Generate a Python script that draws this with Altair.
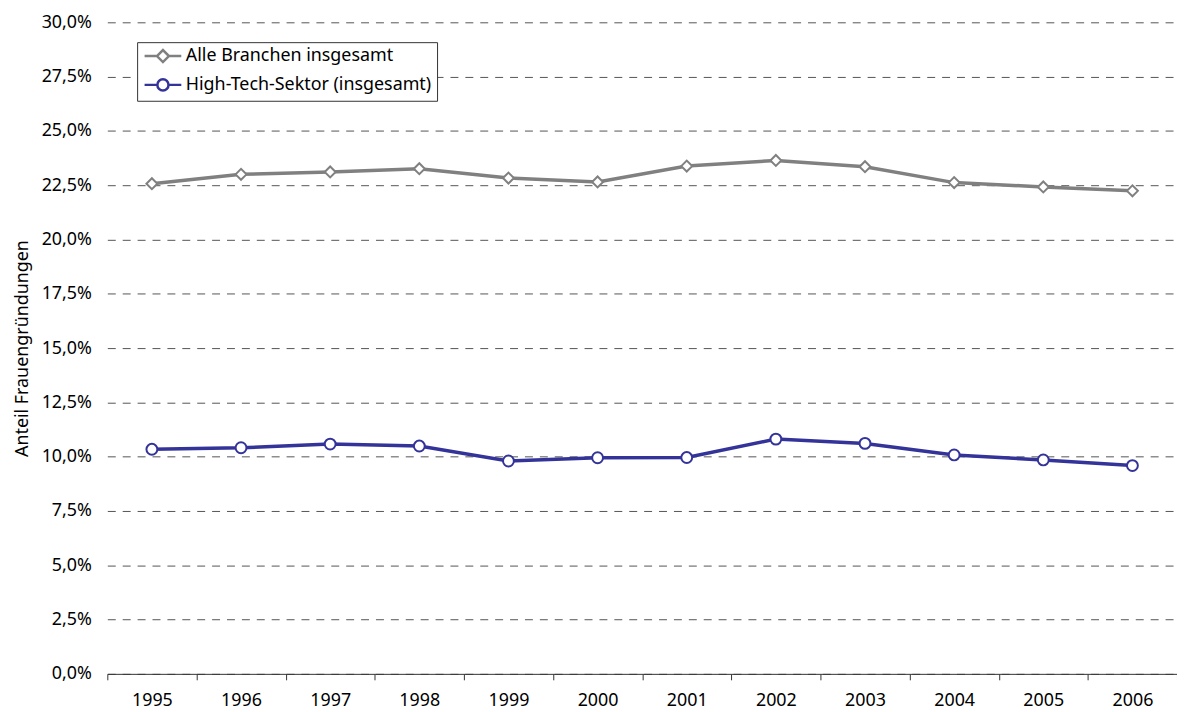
import altair as alt
import pandas as pd

years = ["1995", "1996", "1997", "1998", "1999", "2000", "2001", "2002", "2003", "2004", "2005", "2006"]
alle = [22.57, 23.00, 23.11, 23.26, 22.83, 22.65, 23.38, 23.64, 23.35, 22.62, 22.42, 22.24]
hightech = [10.34, 10.41, 10.58, 10.49, 9.80, 9.95, 9.96, 10.81, 10.61, 10.08, 9.85, 9.59]
series_names = ["Alle Branchen insgesamt", "High-Tech-Sektor (insgesamt)"]
y_ticks = [0, 2.5, 5, 7.5, 10, 12.5, 15, 17.5, 20, 22.5, 25, 27.5, 30]

rows = []
for name, vals in zip(series_names, [alle, hightech]):
    for y, v in zip(years, vals):
        rows.append({"Jahr": y, "Serie": name, "Wert": v})
df = pd.DataFrame(rows)

FONT = "Noto Sans"
colors = ["#808080", "#333399"]

# legend symbols: line with marker (unit = 7px)
diamond_sym = "M-2.64,0L-0.86,0M0.86,0L2.64,0M-0.86,0L0,-0.86L0.86,0L0,0.86Z"
circle_sym = "M-2.64,0L-0.86,0M0.86,0L2.64,0M0.8,0A0.8,0.8,0,1,1,-0.8,0A0.8,0.8,0,1,1,0.8,0Z"

x_enc = alt.X(
    "Jahr:O",
    bandPosition=0.5,
    scale=alt.Scale(type="band", paddingInner=0, paddingOuter=0),
    axis=alt.Axis(
        title=None, labelAngle=0, tickBand="extent", domainColor="#333333",
        tickColor="#333333", tickSize=6, labelFontSize=18, labelPadding=12,
        labelColor="#000000", grid=False,
    ),
)
y_enc = alt.Y(
    "Wert:Q",
    scale=alt.Scale(domain=[0, 30], nice=False),
    axis=alt.Axis(
        values=y_ticks,
        labelExpr="replace(format(datum.value, '.1f'), '.', ',') + '%'",
        title="Anteil Frauengründungen", titleFontSize=18, titleFontWeight="normal",
        titleColor="#000000", titlePadding=10,
        labelFontSize=18, labelPadding=16, labelColor="#000000",
        domain=False, ticks=False, grid=True, gridDash=[8, 7], gridColor="#555555",
        gridWidth=1,
    ),
)

color_scale = alt.Scale(domain=series_names, range=colors)

lines = alt.Chart(df).mark_line(strokeWidth=3.5).encode(
    x=x_enc,
    y=y_enc,
    color=alt.Color("Serie:N", scale=color_scale, legend=None),
)

points = alt.Chart(df).mark_point(filled=True, fill="white", strokeWidth=2, opacity=1).encode(
    x=x_enc,
    y=y_enc,
    stroke=alt.Stroke("Serie:N", scale=color_scale, legend=None),
    shape=alt.Shape("Serie:N", scale=alt.Scale(domain=series_names, range=["diamond", "circle"]), legend=None),
    size=alt.Size("Serie:N", scale=alt.Scale(domain=series_names, range=[121, 120]), legend=None),
)

leg = alt.Legend(
    title=None, orient="none", legendX=30, legendY=20,
    fillColor="white", strokeColor="#333333", padding=5,
    labelFontSize=18, labelColor="#000000", labelLimit=400,
    symbolSize=196, symbolStrokeWidth=2.5, rowPadding=6,
    symbolFillColor="white", symbolOpacity=1,
    symbolOffset=12, labelOffset=14,
)

legend_layer = alt.Chart(df).transform_filter("false").mark_point(
    filled=False, strokeWidth=2.5, opacity=1, size=196
).encode(
    x=x_enc,
    y=y_enc,
    color=alt.Color("Serie:N", scale=color_scale, legend=leg),
    shape=alt.Shape(
        "Serie:N",
        scale=alt.Scale(domain=series_names, range=[diamond_sym, circle_sym]),
        legend=leg,
    ),
)

chart = alt.layer(lines, points, legend_layer).resolve_scale(
    color="independent", shape="independent", size="independent"
).properties(
    width=1077, height=656,
    autosize=alt.AutoSizeParams(type="none"),
    padding={"left": 100, "top": 12, "right": 0, "bottom": 36},
).configure(
    font=FONT,
).configure_view(stroke=None)

chart.save("out.html", embed_options={"renderer": "svg", "actions": False})
